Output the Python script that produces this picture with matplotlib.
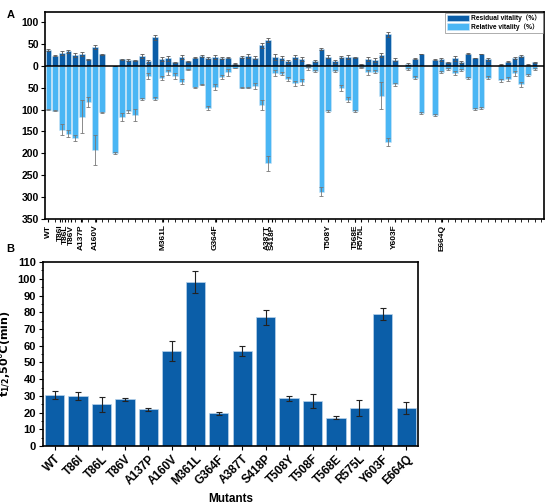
import numpy as np
import matplotlib
matplotlib.use("Agg")
import matplotlib.pyplot as plt
from matplotlib.ticker import MultipleLocator, FuncFormatter

plt.rcParams['font.family'] = ['Liberation Sans', 'Noto Sans CJK SC', 'DejaVu Sans']
plt.rcParams['font.weight'] = 'bold'
plt.rcParams['mathtext.fontset'] = 'dejavusans'

nan = np.nan

# panel A: 74 positions, empty slots are nan
residual = [37, 23, 29, 33, 25, 27, 14.5, 43, 26, nan,
            0, 14.5, 14, 13, 23, 10, 65, 15, 17, 7.6,
            20, 10, 19, 23, 17.5, 20, 17.5, 19, 4.6, 20,
            23, 19, 46.5, 59.5, 20, 17.5, 10, 20, 16, 4,
            11.5, 38.5, 21, 10.5, 20.5, 20, 20, 4, 15, 13.5,
            25, 72, 14, nan, 5, 16.5, 27, nan, 14, 15,
            7.6, 17, 8, 28, 18, 27, 15, nan, 3, 9,
            18, 23, 3, 8]
residual_err = [2, 1, 4, 3, 5, 4, 1, 4, 1, nan,
                0, 1, 2, 1, 5, 4, 5, 5, 6, 1,
                4, 1, 1, 2, 2, 4, 3, 2, 1, 2,
                5, 4, 5, 5, 6, 5, 4, 5, 4, 1,
                2, 2, 3, 3, 3, 5, 1, 1, 5, 4,
                4, 5, 3, nan, 2, 2, 1, nan, 1, 3,
                1, 5, 2, 1, 1, 1, 4, nan, 1, 1,
                3, 2, 1, 1]
relative = [100, 103, 146, 155, 165, 116, 82, 192, 106, nan,
            200, 116, 104, 112, 75, 23, 75, 28, 15, 23,
            36, 9, 49, 43, 97, 49, 26, 15, 5, 50,
            50, 47, 89, 223, 17, 18, 30, 40, 37, 6,
            11, 288, 104, 11, 51, 77, 103, 4, 15, 13,
            68, 175, 42, nan, 7, 27, 107, nan, 113, 14,
            7.6, 17, 9, 28, 98, 97, 27, nan, 33, 30,
            17, 42, 21, 8]
relative_err = [1, 1, 12, 8, 6, 37, 11, 34, 1, nan,
                2, 9, 3, 14, 2, 6, 4, 4, 6, 6,
                6, 1, 1, 1, 5, 7, 4, 8, 1, 1,
                1, 7, 11, 17, 7, 3, 4, 5, 7, 3,
                2, 10, 2, 2, 7, 5, 2, 2, 6, 3,
                30, 9, 3, nan, 2, 3, 2, nan, 2, 2,
                2, 5, 2, 2, 2, 2, 3, nan, 3, 4,
                6, 6, 3, 2]
a_labels = ['WT', 'T86I', 'T86L', 'T86V', 'A137P', 'A160V', 'M361L', 'G364F',
            'A387T', 'S418P', 'T508Y', 'T568E', 'R575L', 'Y603F', 'E664Q']
a_label_pos = [0, 1.8, 2.5, 3.4, 4.9, 7.1, 17.2, 25.1,
               32.9, 33.6, 42.0, 46.1, 47.0, 52.0, 59.1]

# panel B
mutants = ['WT', 'T86I', 'T86L', 'T86V', 'A137P', 'A160V', 'M361L', 'G364F',
           'A387T', 'S418P', 'T508Y', 'T508F', 'T568E', 'R575L', 'Y603F', 'E664Q']
half_life = [30.5, 30, 25, 28, 22, 57, 98, 19.5, 57, 77, 28.5, 27, 17, 22.5, 79, 23]
half_life_err = [2.5, 2.5, 4.5, 1, 1, 6, 6.5, 1, 3, 4.5, 1.5, 4, 1, 4.8, 3.8, 3.6]

dark = '#0b5ea8'
light = '#4ab6f4'

fig = plt.figure(figsize=(5.5, 5.04), dpi=100)

# ---- A ----
axA = fig.add_axes([0.082, 0.5655, 0.907, 0.4107])
x = np.arange(len(residual))
rel_neg = -np.array(relative, dtype=float)
axA.bar(x, rel_neg, width=0.85, color=light, edgecolor='#cfe6f6', linewidth=0.4,
        label='Relative vitality（%）', zorder=2)
axA.bar(x, residual, width=0.85, color=dark, edgecolor='#cfe6f6', linewidth=0.4,
        label='Residual vitality（%）', zorder=2)
axA.errorbar(x, residual, yerr=residual_err, fmt='none', ecolor='#555555',
             elinewidth=0.6, capsize=1.3, capthick=0.6, zorder=3)
axA.errorbar(x, rel_neg, yerr=relative_err, fmt='none', ecolor='#777777',
             elinewidth=0.6, capsize=1.3, capthick=0.6, zorder=3)
axA.axhline(0, color='black', linewidth=1.1, zorder=4)
axA.set_xlim(-0.5, 74.4)
axA.set_ylim(-350, 123)
axA.set_yticks(np.arange(-350, 101, 50))
axA.yaxis.set_major_formatter(FuncFormatter(lambda v, p: '%d' % abs(v)))
axA.set_xticks(a_label_pos)
axA.set_xticklabels(a_labels, rotation=90, fontsize=6, fontweight='bold')
axA.set_xticks(np.arange(0, 75), minor=True)
axA.tick_params(axis='x', which='major', length=2.5, width=0.8, pad=1.5)
axA.tick_params(axis='x', which='minor', length=2, width=0.6)
axA.tick_params(axis='y', length=3, width=0.8, labelsize=7.5, pad=1.5)
for s in axA.spines.values():
    s.set_linewidth(1.2)
h, l = axA.get_legend_handles_labels()
leg = axA.legend(h[::-1], l[::-1], loc='upper right', fontsize=4.8, frameon=True,
                 fancybox=False, edgecolor='#888888', borderpad=0.3,
                 handlelength=3.2, handleheight=1.1, labelspacing=0.1,
                 borderaxespad=0.1, handletextpad=0.4)
leg.get_frame().set_linewidth(0.6)
fig.text(0.012, 0.98, 'A', fontsize=8, fontweight='bold', va='top')

# ---- B ----
axB = fig.add_axes([0.078, 0.115, 0.682, 0.365])
xb = np.arange(len(mutants))
axB.bar(xb, half_life, width=0.82, color=dark, edgecolor='#b9d3ea', linewidth=0.5, zorder=2)
axB.errorbar(xb, half_life, yerr=half_life_err, fmt='none', ecolor='#222222',
             elinewidth=0.8, capsize=2, capthick=0.8, zorder=3)
axB.set_xlim(-0.5, 15.5)
axB.set_ylim(0, 110)
axB.set_yticks(np.arange(0, 111, 10))
axB.yaxis.set_minor_locator(MultipleLocator(5))
axB.set_xticks(xb)
axB.set_xticklabels(mutants, rotation=45, ha='right', rotation_mode='anchor',
                    fontsize=8.5, fontweight='bold')
axB.tick_params(axis='both', which='major', length=3, width=0.8, labelsize=8, pad=2)
axB.tick_params(axis='x', labelsize=8.5)
axB.tick_params(axis='y', which='minor', length=1.8, width=0.6)
for s in axB.spines.values():
    s.set_linewidth(1.2)
axB.set_xlabel('Mutants', fontsize=8.5, fontweight='bold', labelpad=4)
axB.set_ylabel(r'$\mathbf{t_{1/2}}$,50℃(min)', family='DejaVu Sans',
               fontsize=8, fontweight='bold', labelpad=3)
fig.text(0.012, 0.515, 'B', fontsize=8, fontweight='bold', va='top')

fig.savefig('out.png', dpi=100)
